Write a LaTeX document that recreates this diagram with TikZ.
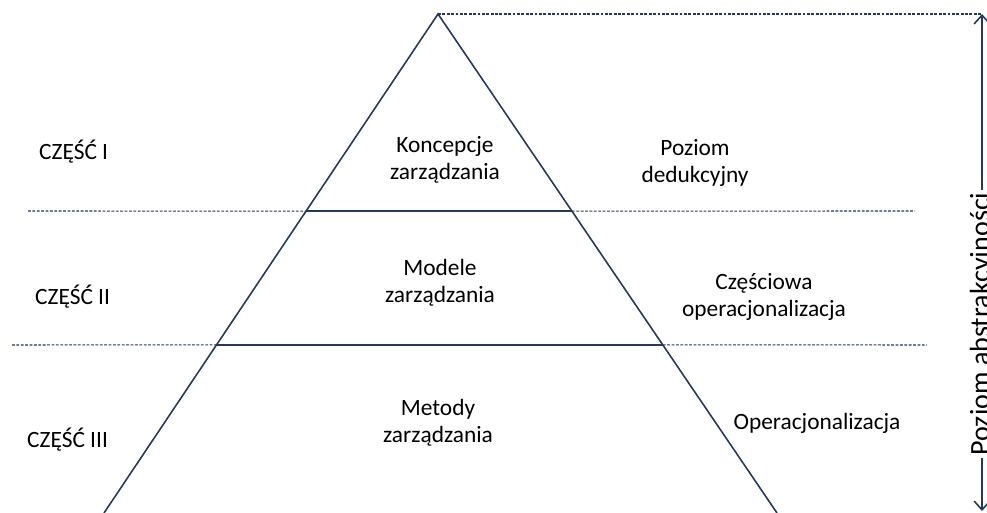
\documentclass[tikz,border=0pt]{standalone}
\usepackage{fontspec}
\setmainfont{Carlito}
\usetikzlibrary{arrows.meta,calc}
\definecolor{navy}{RGB}{38,56,92}

\begin{document}
\begin{tikzpicture}[x=0.02cm, y=-0.02cm,
    edge/.style={draw=navy, line width=0.9pt},
    guide/.style={draw=navy, line width=0.6pt, dash pattern=on 1.6pt off 0.9pt},
    label/.style={align=center, font=\fontsize{13.3}{15.2}\selectfont},
    part/.style={anchor=west, font=\fontsize{13.3}{15.2}\selectfont}]
    \useasboundingbox (0,0) rectangle (987,513);

    % Pyramid
    \coordinate (apex) at (438,14);
    \coordinate (bl) at (104,513);
    \coordinate (br) at (777,513);
    \coordinate (l1) at ($(apex)!0.395!(bl)$);
    \coordinate (r1) at ($(apex)!0.395!(br)$);
    \coordinate (l2) at ($(apex)!0.663!(bl)$);
    \coordinate (r2) at ($(apex)!0.663!(br)$);
    \draw[edge] (bl) -- (apex) -- (br);
    \draw[edge] (l1) -- (r1);
    \draw[edge] (l2) -- (r2);

    % Dotted guides
    \coordinate (g1l) at (28,211);
    \coordinate (g1r) at (915,211);
    \coordinate (g2l) at (12,345);
    \coordinate (g2r) at (927,345);
    \draw[guide] (g1l) -- (l1);
    \draw[guide] (r1) -- (g1r);
    \draw[guide] (g2l) -- (l2);
    \draw[guide] (r2) -- (g2r);

    % Layers
    \node[label] (concepts) at (445,160) {Koncepcje\\zarządzania};
    \node[label] (models) at (440,283) {Modele\\zarządzania};
    \node[label] (methods) at (438,423) {Metody\\zarządzania};

    % Parts
    \node[part] (part1) at (33,152) {CZĘŚĆ I};
    \node[part] (part2) at (29,297) {CZĘŚĆ II};
    \node[part] (part3) at (21,440) {CZĘŚĆ III};

    % Levels
    \node[label] (deduct) at (695,163) {Poziom\\dedukcyjny};
    \node[label] (partial) at (764,297) {Częściowa\\operacjonalizacja};
    \node[label] (oper) at (817,423) {Operacjonalizacja};

    % Axis
    \coordinate (top) at (982,14);
    \coordinate (bottom) at (982,511);
    \draw[guide] (apex) -- (top);
    \node[rotate=90, inner sep=1pt, font=\fontsize{16}{18}\selectfont] (axis) at (982,324) {Poziom abstrakcyjności};
    \draw[edge, -{Straight Barb[length=5pt,width=9pt]}] (axis) -- (top);
    \draw[edge, -{Straight Barb[length=5pt,width=9pt]}] (axis) -- (bottom);
\end{tikzpicture}
\end{document}
